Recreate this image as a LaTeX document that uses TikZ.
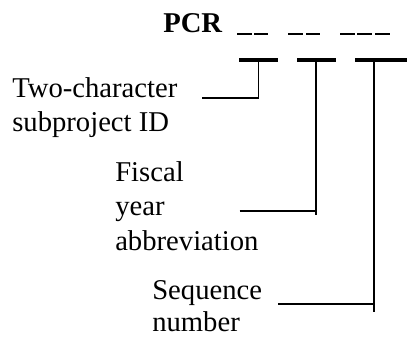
\documentclass[tikz,border=0pt]{standalone}
\usepackage{fontspec}
\setmainfont{Liberation Serif}
\begin{document}
\begin{tikzpicture}[x=0.75pt,y=-0.75pt,
  lbl/.style={anchor=base west,inner sep=0pt,font=\fontsize{21.5}{25.7}\selectfont},
  blank/.style={line width=0.8pt},
  bar/.style={line width=3pt},
  lead/.style={line width=1pt}]
\useasboundingbox (0,0) rectangle (408,337);
% code prefix
\node[lbl,font=\fontsize{21.5}{25.7}\selectfont\bfseries] (pcr) at (163,32) {PCR};
% blanks to fill in
\foreach \a/\b in {237/252,254/268,288/303,306/320,340/355,357/372,375/390}
  \draw[blank] (\a,34) -- (\b,34);
% brackets under each field
\coordinate (b1l) at (239,60); \coordinate (b1r) at (278,60);
\coordinate (b2l) at (297,60); \coordinate (b2r) at (336,60);
\coordinate (b3l) at (355,60); \coordinate (b3r) at (407,60);
\draw[bar] (b1l) -- (b1r);
\draw[bar] (b2l) -- (b2r);
\draw[bar] (b3l) -- (b3r);
% labels
\node[lbl] (t1) at (12,97.7) {Two-character};
\node[lbl] (t2) at (12,131.7) {subproject ID};
\node[lbl] (f1) at (115,181.5) {Fiscal};
\node[lbl] (f2) at (115,215.5) {year};
\node[lbl] (f3) at (115,250) {abbreviation};
\node[lbl] (s1) at (152,299) {Sequence};
\node[lbl,text depth=0pt] (s2) at (152,331) {number};
% leaders
\coordinate (l1) at (202,98); \coordinate (k1) at (258.5,98);
\coordinate (l2) at (239.5,211); \coordinate (k2) at (316,211); \coordinate (e2) at (316,215);
\coordinate (l3) at (278,304); \coordinate (k3) at (374,304); \coordinate (e3) at (374,312);
\draw[lead] (l1) -- (k1) -- (258.5,60);
\draw[lead] (l2) -- (k2);
\draw[lead] (316,60) -- (e2);
\draw[lead] (l3) -- (k3);
\draw[lead] (374,60) -- (e3);
\end{tikzpicture}
\end{document}
